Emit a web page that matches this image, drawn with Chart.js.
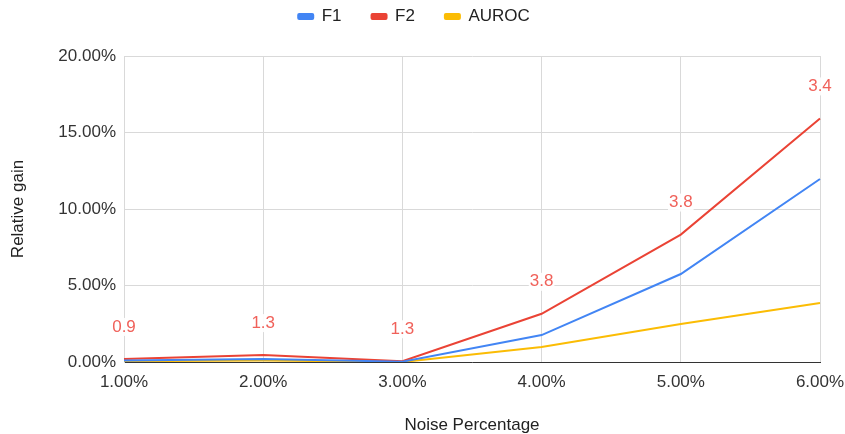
<!DOCTYPE html>
<html>
<head>
<meta charset="utf-8">
<script src="https://cdn.jsdelivr.net/npm/chart.js@4/dist/chart.umd.min.js"></script>
<style>
  html, body { margin: 0; padding: 0; background: #fff; }
  #wrap { width: 845px; height: 434px; position: relative; }
</style>
</head>
<body>
<div id="wrap"><canvas id="c"></canvas></div>
<script>
// Noise levels on the x axis
const noiseLevels = ['1.00%', '2.00%', '3.00%', '4.00%', '5.00%', '6.00%'];

// Relative gain (in percent) per metric
const f1Gain    = [0.10, 0.20, 0.02, 1.76, 5.75, 11.96];
const f2Gain    = [0.20, 0.45, 0.05, 3.15, 8.33, 15.92];
const aurocGain = [0.05, 0.10, 0.00, 0.98, 2.48, 3.86];

// Annotations printed above the F2 line
const f2Notes = ['0.9', '1.3', '1.3', '3.8', '3.8', '3.4'];

// Y axis ticks
const yTicks = [0, 5, 10, 15, 20];

const FONT = '"Liberation Sans", Arial, sans-serif';
const FS = 17;

// Draws the F2 annotation text above each point of that series
const noteLabels = {
  id: 'noteLabels',
  afterInit(chart) {
    // leave more room between the legend row and the plot
    const lg = chart.legend;
    if (lg) {
      const fit = lg.fit.bind(lg);
      lg.fit = function () { fit(); this.height += 21; };
    }
  },
  afterDatasetsDraw(chart) {
    const meta = chart.getDatasetMeta(1);
    const ctx = chart.ctx;
    ctx.save();
    ctx.font = FS + 'px ' + FONT;
    ctx.textAlign = 'center';
    ctx.textBaseline = 'middle';
    meta.data.forEach((pt, i) => {
      const txt = f2Notes[i];
      const w = ctx.measureText(txt).width;
      const cy = pt.y - 32;
      ctx.fillStyle = 'rgba(255,255,255,0.9)';
      ctx.fillRect(pt.x - w / 2 - 1, cy - 9, w + 2, 18);
      ctx.fillStyle = '#f0615a';
      ctx.fillText(txt, pt.x, cy);
    });
    ctx.restore();
  }
};

new Chart(document.getElementById('c'), {
  type: 'line',
  data: {
    labels: noiseLevels,
    datasets: [
      { label: 'F1', data: f1Gain, borderColor: '#4285f4', backgroundColor: '#4285f4' },
      { label: 'F2', data: f2Gain, borderColor: '#ea4335', backgroundColor: '#ea4335' },
      { label: 'AUROC', data: aurocGain, borderColor: '#fbbc04', backgroundColor: '#fbbc04' }
    ]
  },
  options: {
    responsive: true,
    maintainAspectRatio: false,
    animation: false,
    layout: { padding: { left: 8, right: 25, top: -22, bottom: 0 } },
    elements: {
      line: { borderWidth: 2, tension: 0 },
      point: { radius: 0, hoverRadius: 0 }
    },
    plugins: {
      tooltip: { enabled: false },
      legend: {
        position: 'top',
        labels: {
          font: { family: FONT, size: FS },
          color: '#222',
          boxWidth: 15,
          boxHeight: 5,
          padding: 30,
          useBorderRadius: true,
          borderRadius: 1
        }
      }
    },
    scales: {
      x: {
        type: 'category',
        offset: false,
        grid: { color: '#d9d9d9', drawTicks: false, lineWidth: 1 },
        border: { color: '#333', width: 1 },
        ticks: { font: { family: FONT, size: FS }, color: '#333', padding: 10, maxRotation: 0 },
        title: { display: true, text: 'Noise Percentage', font: { family: FONT, size: FS }, color: '#222', padding: { top: 20, bottom: -2 } },
        afterFit(scale) {
          scale.height = 72;
          // the last tick label may run into the page margin
          scale.paddingRight = 0;
        }
      },
      y: {
        min: 0,
        max: 20,
        afterBuildTicks(scale) { scale.ticks = yTicks.map(v => ({ value: v })); },
        grid: { color: '#d9d9d9', drawTicks: false, lineWidth: 1 },
        border: { color: '#d9d9d9', width: 1 },
        ticks: {
          font: { family: FONT, size: FS },
          color: '#333',
          padding: 8,
          callback: v => v.toFixed(2) + '%'
        },
        title: { display: true, text: 'Relative gain', font: { family: FONT, size: FS }, color: '#222', padding: { top: 0, bottom: 20 } },
        afterFit(scale) { scale.width = 116; }
      }
    }
  },
  plugins: [noteLabels]
});
</script>
</body>
</html>
